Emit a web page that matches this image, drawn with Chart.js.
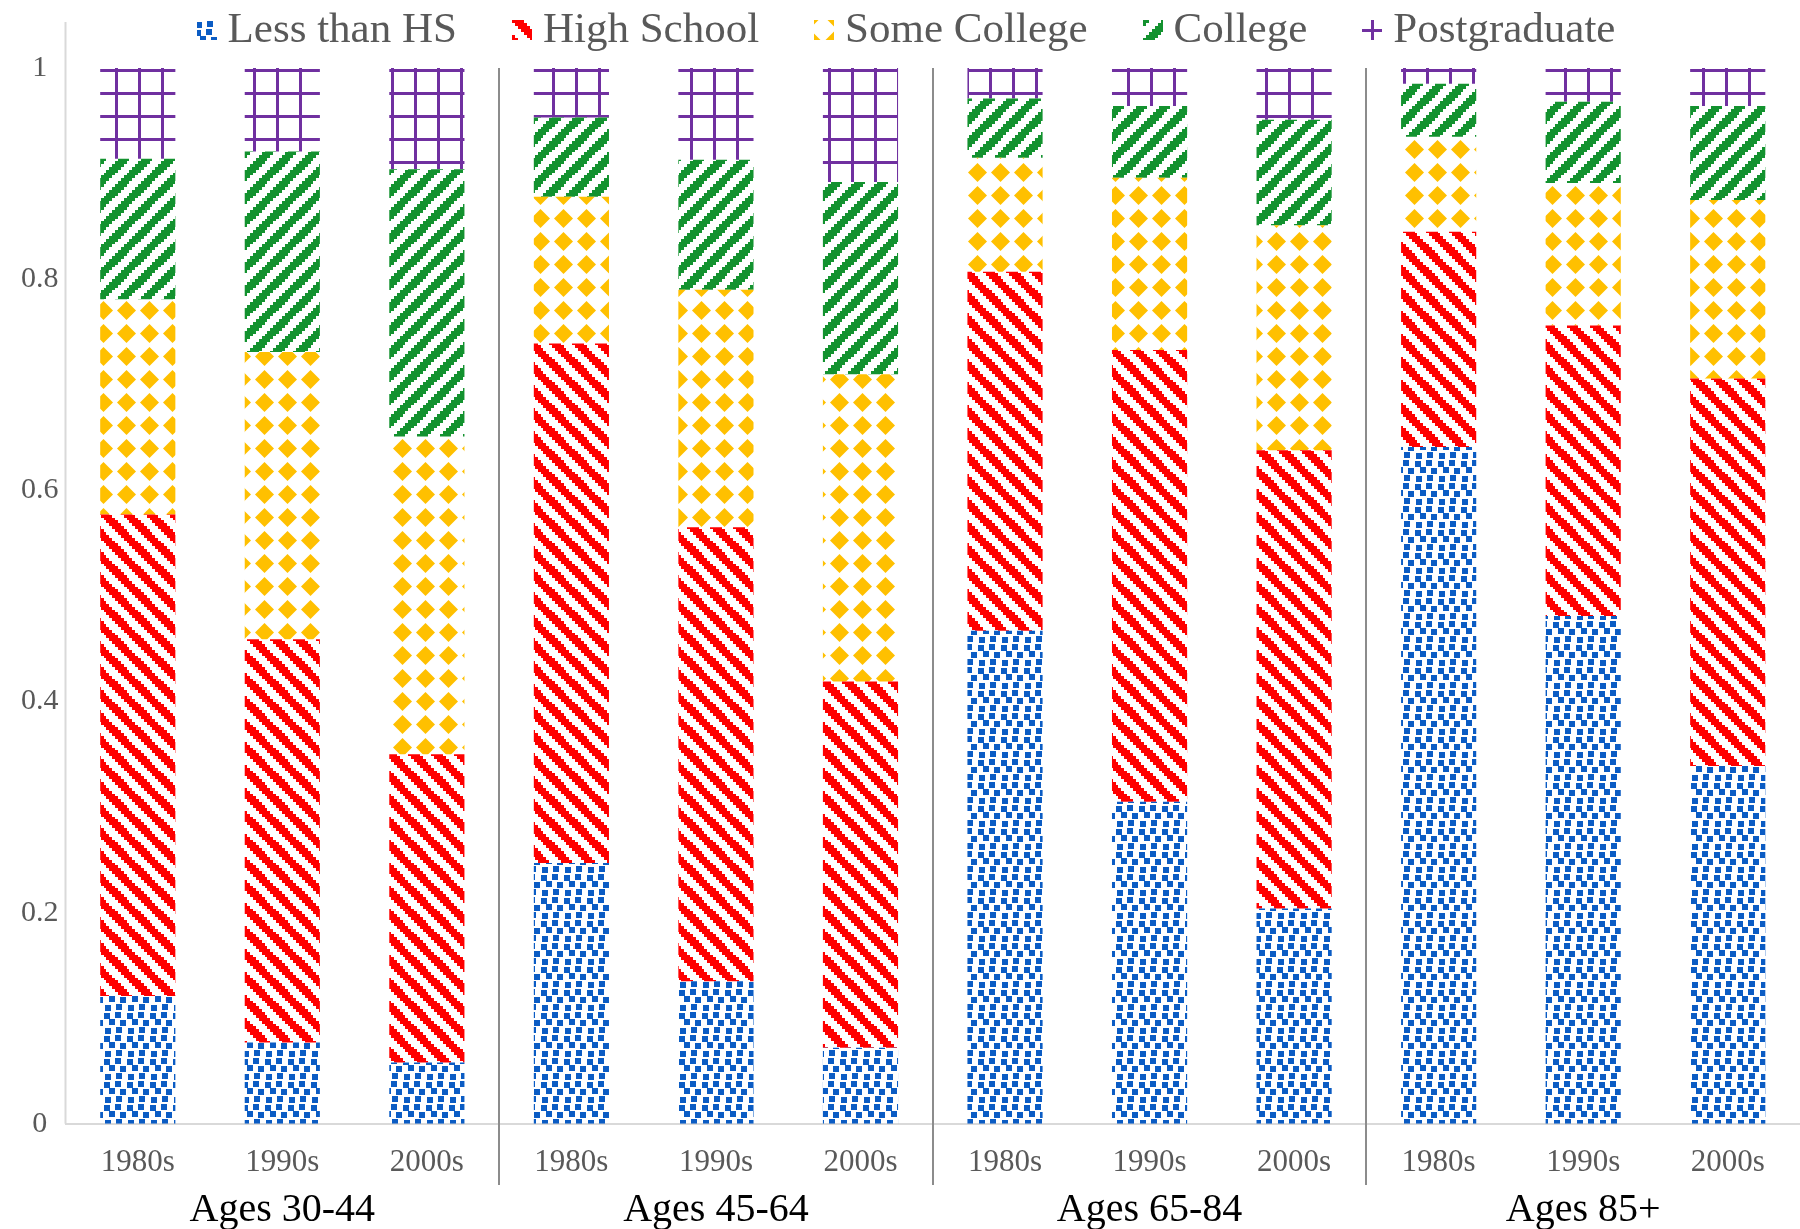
<!DOCTYPE html>
<html>
<head>
<meta charset="utf-8">
<script src="https://cdn.jsdelivr.net/npm/chart.js@4.4.1/dist/chart.umd.min.js"></script>
<style>
  body { margin: 0; background: #fff; }
</style>
</head>
<body>
<canvas id="chart" width="1800" height="1229"></canvas>
<script>
// categories
const decades = ["1980s", "1990s", "2000s"];
const ageGroups = ["Ages 30-44", "Ages 45-64", "Ages 65-84", "Ages 85+"];

// shares per bar (30-44 x3, 45-64 x3, 65-84 x3, 85+ x3)
const lessThanHS   = [0.121, 0.077, 0.058, 0.247, 0.135, 0.072, 0.467, 0.305, 0.204, 0.641, 0.481, 0.339];
const highSchool   = [0.456, 0.382, 0.292, 0.492, 0.430, 0.347, 0.340, 0.428, 0.434, 0.204, 0.275, 0.367];
const someCollege  = [0.204, 0.272, 0.301, 0.139, 0.225, 0.291, 0.108, 0.163, 0.213, 0.090, 0.135, 0.169];
const college      = [0.133, 0.190, 0.253, 0.075, 0.123, 0.182, 0.056, 0.068, 0.100, 0.050, 0.077, 0.089];
const postgraduate = [0.086, 0.079, 0.096, 0.047, 0.087, 0.108, 0.029, 0.036, 0.049, 0.015, 0.032, 0.036];

const yMax = 1;
const yStep = 0.2;

// 8x8 excel-like fill bitmaps, blown up to a 23px tile
function bitmapPattern(rows, color) {
  const size = 23;
  const c = document.createElement("canvas");
  c.width = size; c.height = size;
  const g = c.getContext("2d");
  g.fillStyle = color;
  rows.forEach((row, r) => {
    for (let k = 0; k < 8; k++) {
      if (row[k] !== "1") continue;
      const x0 = Math.round(k * size / 8), x1 = Math.round((k + 1) * size / 8);
      const y0 = Math.round(r * size / 8), y1 = Math.round((r + 1) * size / 8);
      g.fillRect(x0, y0, x1 - x0, y1 - y0);
    }
  });
  return g.createPattern(c, "repeat");
}

function diagonal(down) {
  const rows = [];
  for (let r = 0; r < 8; r++) {
    let s = "";
    for (let k = 0; k < 8; k++) {
      const d = down ? (k - r + 8) % 8 : (k + r) % 8;
      s += d < 4 ? "1" : "0";
    }
    rows.push(s);
  }
  return rows;
}

function confetti(color) {
  const c = document.createElement("canvas");
  c.width = 23; c.height = 23;
  const g = c.getContext("2d");
  g.fillStyle = color;
  [[0, 0], [12, 1], [5, 8], [17, 7], [1, 15], [13, 16]].forEach(([x, y]) => g.fillRect(x, y, 6, 6));
  return g.createPattern(c, "repeat");
}

function diamonds(color) {
  const c = document.createElement("canvas");
  c.width = 23; c.height = 23;
  const g = c.getContext("2d");
  g.fillStyle = color;
  g.beginPath();
  g.moveTo(11.5, 2); g.lineTo(21, 11.5); g.lineTo(11.5, 21); g.lineTo(2, 11.5);
  g.closePath();
  g.fill();
  return g.createPattern(c, "repeat");
}

const fills = [
  confetti("#0b5cc4"),
  bitmapPattern(diagonal(true), "#ff0000"),
  diamonds("#ffc000"),
  bitmapPattern(diagonal(false), "#13922f"),
  bitmapPattern(["11111111", "10000000", "10000000", "10000000", "10000000", "10000000", "10000000", "10000000"], "#7030a0")
];

const seriesNames = ["Less than HS", "High School", "Some College", "College", "Postgraduate"];
const seriesData = [lessThanHS, highSchool, someCollege, college, postgraduate];

const labels = ageGroups.flatMap(() => decades);
const serif = "'Liberation Serif', 'Times New Roman', serif";

const extras = {
  id: "extras",
  afterDraw(chart) {
    const { ctx, chartArea, scales: { x } } = chart;
    ctx.save();

    // plot border on the left
    ctx.strokeStyle = "#d9d9d9";
    ctx.lineWidth = 2;
    ctx.beginPath();
    ctx.moveTo(chartArea.left, 22);
    ctx.lineTo(chartArea.left, chartArea.bottom);
    ctx.stroke();

    // group labels + separators
    ctx.font = "40px " + serif;
    ctx.fillStyle = "#000";
    ctx.textAlign = "center";
    ctx.textBaseline = "middle";
    ageGroups.forEach((name, g) => {
      const first = g * decades.length;
      const last = first + decades.length - 1;
      const cx = (x.getPixelForValue(first) + x.getPixelForValue(last)) / 2;
      ctx.fillText(name, cx, x.bottom + 9);
      if (g < ageGroups.length - 1) {
        const sx = Math.round((x.getPixelForValue(last) + x.getPixelForValue(last + 1)) / 2);
        ctx.strokeStyle = "#8c8c8c";
        ctx.lineWidth = 2;
        ctx.beginPath();
        ctx.moveTo(sx, chartArea.top);
        ctx.lineTo(sx, x.bottom - 16);
        ctx.stroke();
      }
    });

    // legend
    ctx.font = "43px " + serif;
    ctx.textAlign = "left";
    const box = 20, gapIn = 11, gapOut = 55, ly = 30;
    const widths = seriesNames.map(n => ctx.measureText(n).width);
    const total = widths.reduce((a, w) => a + w + box + gapIn, 0) + gapOut * (seriesNames.length - 1);
    let lx = chart.width / 2 + 6 - total / 2;
    seriesNames.forEach((name, i) => {
      // shift the tile so the marker shows a centred piece of the fill
      ctx.save();
      ctx.translate(Math.round(lx + box / 2 - 1), Math.round(ly - 1));
      ctx.fillStyle = fills[i];
      ctx.fillRect(-box / 2 + 1, -box / 2 + 1, box, box);
      ctx.restore();
      ctx.fillStyle = "#595959";
      ctx.fillText(name, lx + box + gapIn, ly + 1);
      lx += box + gapIn + widths[i] + gapOut;
    });
    ctx.restore();
  }
};

new Chart(document.getElementById("chart"), {
  type: "bar",
  data: {
    labels: labels,
    datasets: seriesNames.map((name, i) => ({
      label: name,
      data: seriesData[i],
      backgroundColor: fills[i],
      borderWidth: 0,
      barPercentage: 0.52,
      categoryPercentage: 1.0
    }))
  },
  options: {
    responsive: false,
    animation: false,
    layout: { padding: { top: 68, left: 14, right: 0, bottom: 28 } },
    plugins: {
      legend: { display: false },
      tooltip: { enabled: false }
    },
    scales: {
      x: {
        stacked: true,
        grid: { display: false, drawTicks: false },
        border: { display: true, color: "#d9d9d9", width: 2 },
        ticks: {
          padding: 20,
          autoSkip: false,
          maxRotation: 0,
          color: "#595959",
          font: { family: serif, size: 31 }
        }
      },
      y: {
        stacked: true,
        min: 0,
        max: yMax,
        grid: { display: false, drawTicks: false },
        border: { display: false },
        ticks: {
          stepSize: yStep,
          padding: 7,
          crossAlign: "center",
          color: "#595959",
          font: { family: serif, size: 30 },
          callback: v => String(Math.round(v * 10) / 10)
        }
      }
    }
  },
  plugins: [extras]
});
</script>
</body>
</html>
